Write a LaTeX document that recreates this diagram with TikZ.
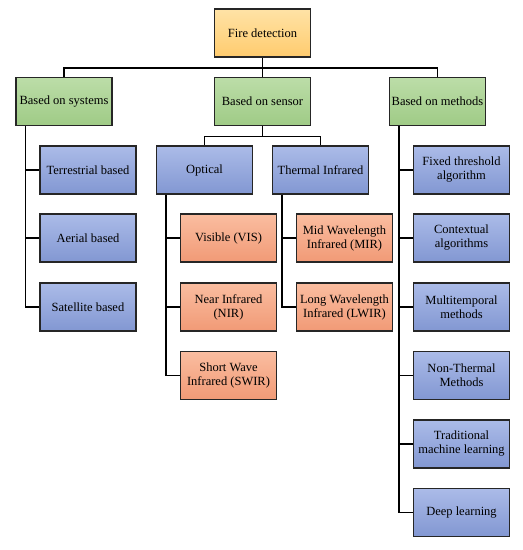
\documentclass[tikz,border=0pt]{standalone}
\usepackage{fontspec}
\setmainfont{Liberation Serif}
\usepackage{xcolor}
\usepackage{tikz}
\usetikzlibrary{arrows}
\usetikzlibrary{calc}

\definecolor{firetop}{HTML}{FFE3A6}
\definecolor{firebot}{HTML}{FFCB6E}
\definecolor{greentop}{HTML}{BCDDA8}
\definecolor{greenbot}{HTML}{9FCB86}
\definecolor{bluetop}{HTML}{ABBBE8}
\definecolor{bluebot}{HTML}{8297D2}
\definecolor{salmtop}{HTML}{FABDA0}
\definecolor{salmbot}{HTML}{F19A76}

\begin{document}
\begin{tikzpicture}[x=1pt,y=-1pt,
  box/.style={draw=black!85,line width=1.5pt,minimum width=96pt,minimum height=48pt,
              inner sep=1pt,align=center,font=\fontsize{12.5}{14}\selectfont},
  topbox/.style={box,top color=firetop,bottom color=firebot},
  groupbox/.style={box,top color=greentop,bottom color=greenbot},
  bluebox/.style={box,top color=bluetop,bottom color=bluebot},
  orangebox/.style={box,top color=salmtop,bottom color=salmbot},
  wire/.style={black,line width=1.5pt}]
\useasboundingbox (0,0) rectangle (523,550);
%% root and the three groups
\node[topbox] (fire) at (262.5,33) {Fire detection};
\node[groupbox] (sys) at (64,101.5) {Based on systems};
\node[groupbox] (sen) at (262.5,101.5) {Based on sensor};
\node[groupbox] (met) at (437.5,101.5) {Based on methods};
%% systems
\node[bluebox] (ter) at (88,170) {Terrestrial based};
\node[bluebox] (aer) at (88,238) {Aerial based};
\node[bluebox] (sat) at (88,307) {Satellite based};
%% sensor
\node[bluebox] (opt) at (204.5,170) {Optical};
\node[bluebox] (thr) at (320.5,170) {Thermal Infrared};
\node[orangebox] (vis) at (228.5,238) {Visible (VIS)};
\node[orangebox] (nir) at (228.5,307) {Near Infrared\\(NIR)};
\node[orangebox] (swir) at (228.5,375.5) {Short Wave\\Infrared (SWIR)};
\node[orangebox] (mir) at (344.5,238) {Mid Wavelength\\Infrared (MIR)};
\node[orangebox] (lwir) at (344.5,307) {Long Wavelength\\Infrared (LWIR)};
%% methods
\node[bluebox] (fix) at (461.5,170) {Fixed threshold\\algorithm};
\node[bluebox] (con) at (461.5,238) {Contextual\\algorithms};
\node[bluebox] (mul) at (461.5,307) {Multitemporal\\methods};
\node[bluebox] (non) at (461.5,375.5) {Non-Thermal\\Methods};
\node[bluebox] (tra) at (461.5,444) {Traditional\\machine learning};
\node[bluebox] (dee) at (461.5,512.5) {Deep learning};

\foreach \g in {sys,sen,met}
    \draw[wire] (fire.south) -- ++(0,10) -| (\g.north);
\foreach \c in {opt,thr}
    \draw[wire] (sen.south) -- ++(0,10) -| (\c.north);
\foreach \p/\c in {sys/ter, sys/aer, sys/sat, opt/vis, opt/nir, opt/swir, thr/mir, thr/lwir,
                   met/fix, met/con, met/mul, met/non, met/tra, met/dee}
    \draw[wire] (\p.south west) ++(10,0) |- (\c.west);
\end{tikzpicture}
\end{document}
